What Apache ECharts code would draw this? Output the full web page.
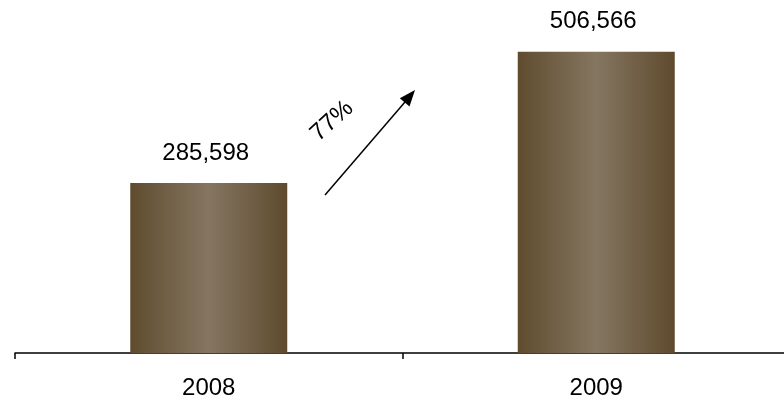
<!DOCTYPE html>
<html>
<head>
<meta charset="utf-8">
<style>
  html, body { margin: 0; padding: 0; background: #ffffff; }
  #chart { width: 784px; height: 401px; }
</style>
<script src="https://cdn.jsdelivr.net/npm/echarts@6/dist/echarts.min.js"></script>
</head>
<body>
<div id="chart"></div>
<script>
// Yearly totals
const years = ['2008', '2009'];
const totals = [285598, 506566];
const growthLabel = '77%';

const fontFamily = 'Liberation Sans, Arial, sans-serif';

// Bronze cylinder-like shading across each bar
const barFill = {
  type: 'linear', x: 0, y: 0, x2: 1, y2: 0,
  colorStops: [
    { offset: 0, color: '#5f4c2f' },
    { offset: 0.5, color: '#857661' },
    { offset: 1, color: '#5e4b2e' }
  ]
};

const chart = echarts.init(document.getElementById('chart'), null, { renderer: 'canvas' });

chart.setOption({
  backgroundColor: '#ffffff',
  animation: false,
  grid: {
    left: 15, top: 2, width: 775, bottom: 48,
    containLabel: false,
    outerBoundsMode: 'none'
  },
  xAxis: {
    type: 'category',
    data: years,
    boundaryGap: true,
    axisLine: { show: true, lineStyle: { color: '#000000', width: 1.5 } },
    axisTick: { show: true, length: 6, inside: false, lineStyle: { color: '#000000', width: 1.5 } },
    axisLabel: { color: '#000000', fontFamily: fontFamily, fontSize: 24, margin: 23 }
  },
  yAxis: {
    type: 'value',
    min: 0,
    max: 590000,
    show: false,
    splitLine: { show: false }
  },
  series: [{
    type: 'bar',
    data: totals,
    barWidth: 157,
    itemStyle: { color: barFill },
    label: {
      show: true,
      position: 'top',
      distance: 18,
      offset: [-3, 0],
      color: '#000000',
      fontFamily: fontFamily,
      fontSize: 24,
      formatter: p => p.value.toLocaleString('en-US')
    }
  }],
  graphic: [
    {
      type: 'line',
      shape: { x1: 325, y1: 195, x2: 405, y2: 102 },
      style: { stroke: '#000000', lineWidth: 1.5 }
    },
    {
      type: 'polygon',
      shape: { points: [[415, 90], [409.5, 106.5], [399.8, 98.2]] },
      style: { fill: '#000000' }
    },
    {
      type: 'text',
      x: 332,
      y: 121,
      rotation: 42 * Math.PI / 180,
      style: {
        text: growthLabel,
        fill: '#000000',
        font: '24px ' + fontFamily,
        align: 'center',
        verticalAlign: 'middle'
      }
    }
  ]
});
</script>
</body>
</html>
